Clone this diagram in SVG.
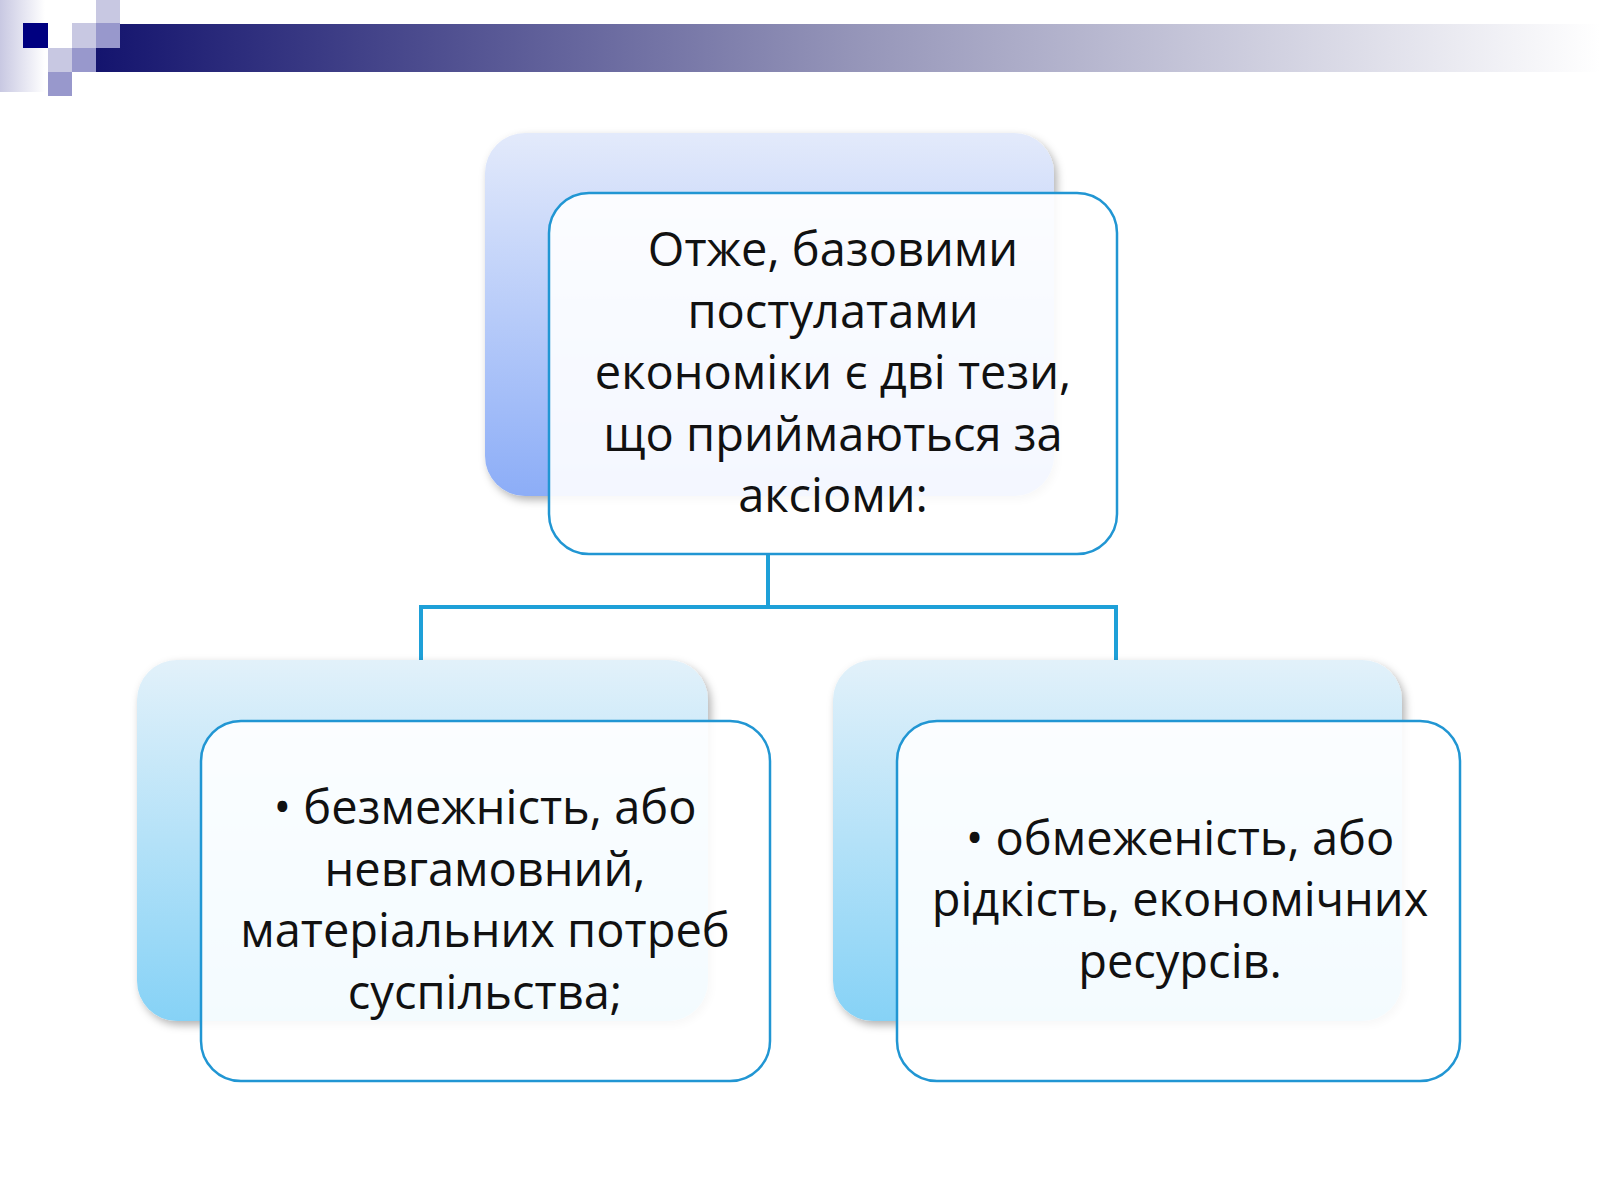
<svg xmlns="http://www.w3.org/2000/svg" width="1600" height="1200" viewBox="0 0 1600 1200">
<defs>
<linearGradient id="band" x1="0" x2="1" y1="0" y2="0"><stop offset="0" stop-color="#14146e"/><stop offset="0.5" stop-color="#9494b8"/><stop offset="1" stop-color="#ffffff"/></linearGradient>
<linearGradient id="lg" x1="0" x2="1"><stop offset="0" stop-color="#c8c8e2"/><stop offset="1" stop-color="#ffffff"/></linearGradient>
<linearGradient id="gTop" x1="0" x2="0" y1="0" y2="1"><stop offset="0" stop-color="#e3eafb"/><stop offset="1" stop-color="#8cadf7"/></linearGradient>
<linearGradient id="gLow" x1="0" x2="0" y1="0" y2="1"><stop offset="0" stop-color="#e2f1fa"/><stop offset="1" stop-color="#86d2f6"/></linearGradient>
<filter id="sh" x="-5%" y="-5%" width="115%" height="115%"><feDropShadow dx="3" dy="4" stdDeviation="4" flood-color="#000" flood-opacity="0.3"/></filter>
</defs>
<style>
.front{fill:#ffffff;fill-opacity:0.9;stroke:#2196d3;stroke-width:2.5}
.t{font-family:"Open Sans","Noto Sans","DejaVu Sans",sans-serif;font-size:47px;fill:#111;text-anchor:middle}
.con{fill:none;stroke:#1ea0d8;stroke-width:4}
</style>
<rect width="1600" height="1200" fill="#fff"/>
<g id="header">
<rect x="0" y="0" width="45" height="92" fill="url(#lg)"/>
<rect x="96" y="24" width="1504" height="48" fill="url(#band)"/>
<rect x="23" y="23" width="25" height="25" fill="#000080"/>
<rect x="72" y="23" width="24" height="25" fill="#c8c8e2"/>
<rect x="96" y="0" width="24" height="23" fill="#c8c8e2"/>
<rect x="96" y="23" width="24" height="25" fill="#9898cc"/>
<rect x="48" y="48" width="24" height="24" fill="#c8c8e2"/>
<rect x="72" y="48" width="24" height="24" fill="#9898cc"/>
<rect x="48" y="72" width="24" height="24" fill="#9898cc"/>
</g>
<g id="connectors">
<path class="con" d="M768 554 V607 M421 607 H1116 M421 605 V660 M1116 605 V660"/>
</g>
<g id="top">
<rect x="485" y="133" width="569" height="363" rx="40" fill="url(#gTop)" filter="url(#sh)"/>
<rect class="front" x="549" y="193" width="568" height="361" rx="40"/>
<text class="t"><tspan x="833" y="266">Отже, базовими</tspan><tspan x="833" y="328">постулатами</tspan><tspan x="833" y="389">економіки є дві тези,</tspan><tspan x="833" y="451">що приймаються за</tspan><tspan x="833" y="512">аксіоми:</tspan></text>
</g>
<g id="left">
<rect x="137" y="660" width="571" height="361" rx="40" fill="url(#gLow)" filter="url(#sh)"/>
<rect class="front" x="201" y="721" width="569" height="360" rx="40"/>
<text class="t"><tspan x="485" y="824">• безмежність, або</tspan><tspan x="485" y="886">невгамовний,</tspan><tspan x="485" y="947">матеріальних потреб</tspan><tspan x="485" y="1009">суспільства;</tspan></text>
</g>
<g id="right">
<rect x="833" y="660" width="569" height="361" rx="40" fill="url(#gLow)" filter="url(#sh)"/>
<rect class="front" x="897" y="721" width="563" height="360" rx="40"/>
<text class="t"><tspan x="1180" y="855">• обмеженість, або</tspan><tspan x="1180" y="916">рідкість, економічних</tspan><tspan x="1180" y="978">ресурсів.</tspan></text>
</g>
</svg>
